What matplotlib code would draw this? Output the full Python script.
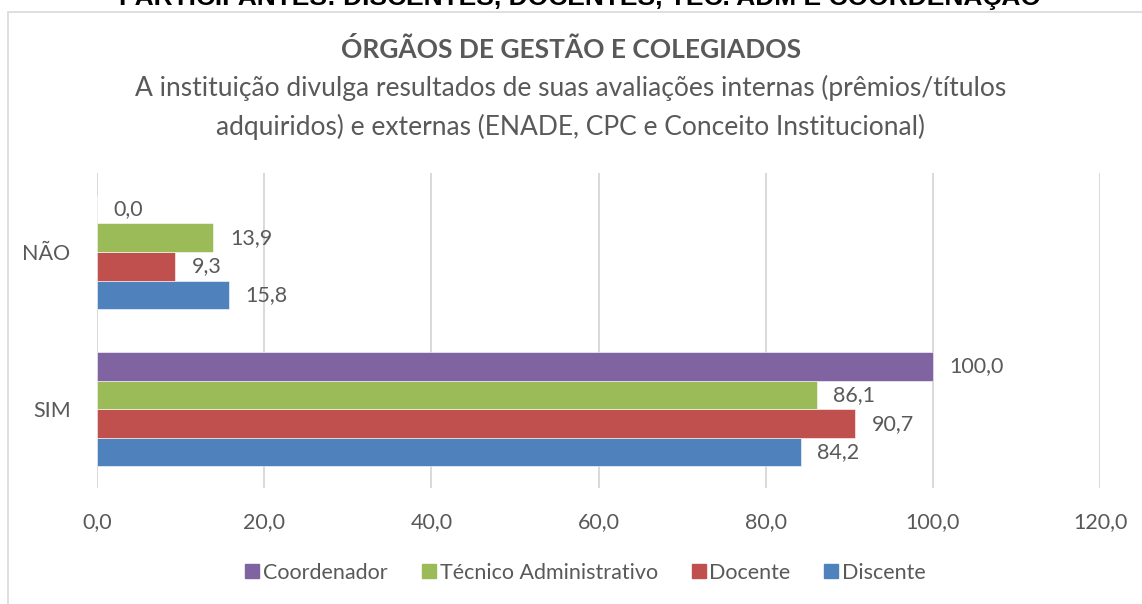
import matplotlib
matplotlib.use("Agg")
import matplotlib.pyplot as plt
from matplotlib.lines import Line2D
from matplotlib.patches import Rectangle

categories = ["SIM", "NÃO"]
series_names = ["Discente", "Docente", "Técnico Administrativo", "Coordenador"]
discente = [84.2, 15.8]
docente = [90.7, 9.3]
tecnico = [86.1, 13.9]
coordenador = [100.0, 0.0]
colors = ["#4F81BD", "#C0504D", "#9BBB59", "#8064A2"]
xticks = [0, 20, 40, 60, 80, 100, 120]

W, H = 1142, 604
fig = plt.figure(figsize=(W / 100, H / 100), dpi=100)
FONT = "Lato"
GRAY = "#595959"

def fx(px):
    return px / W

def fy(py):
    return 1 - py / H

# outer chart border
fig.add_artist(Rectangle((fx(8), -0.1), 1.2, fy(12) + 0.1, transform=fig.transFigure,
                         fill=False, edgecolor="#d9d9d9", linewidth=1.2))

# clipped top title (cut off at the top edge, as in the source image)
fig.text(fx(580), fy(5), "PARTICIPANTES: DISCENTES, DOCENTES, TEC. ADM E COORDENAÇÃO",
         ha="center", va="baseline", fontsize=19, fontweight="bold",
         family="Liberation Sans", color="black")

fig.text(0.5, fy(49), "ÓRGÃOS DE GESTÃO E COLEGIADOS", ha="center", va="center",
         fontsize=19, fontweight="bold", family=FONT, color=GRAY)
fig.text(0.5, fy(88), "A instituição divulga resultados de suas avaliações internas (prêmios/títulos",
         ha="center", va="center", fontsize=19, family=FONT, color=GRAY)
fig.text(0.5, fy(127), "adquiridos) e externas (ENADE, CPC e Conceito Institucional)",
         ha="center", va="center", fontsize=19, family=FONT, color=GRAY)

left, right, top, bottom = 97, 1100, 173.25, 488
ax = fig.add_axes([fx(left), fy(bottom), fx(right) - fx(left), fy(top) - fy(bottom)])

data = [discente, docente, tecnico, coordenador]
h = 28.6 / 157.5
ypos = list(range(len(categories)))
for i, (vals, col) in enumerate(zip(data, colors)):
    ys = [y + (i - 1.5) * h for y in ypos]
    ax.barh(ys, vals, height=h, color=col, edgecolor="white", linewidth=0.4, zorder=3)
    for y, v in zip(ys, vals):
        ax.annotate(f"{v:.1f}".replace(".", ","), (v, y), xytext=(12, 0),
                    textcoords="offset points", ha="left", va="center",
                    fontsize=15.5, family=FONT, color=GRAY)

ax.set_xlim(0, 120)
ax.set_ylim(-0.5, 1.5)
ax.set_xticks(xticks)
ax.set_xticklabels([f"{t:.1f}".replace(".", ",") for t in xticks], family=FONT,
                   fontsize=15.5, color=GRAY)
ax.set_yticks(ypos)
ax.set_yticklabels(categories, family=FONT, fontsize=15.5, color=GRAY)
ax.tick_params(axis="x", length=0, pad=17)
ax.tick_params(axis="y", length=0, pad=19)
ax.grid(axis="x", color="#d9d9d9", linewidth=1.4, zorder=0)
ax.set_axisbelow(True)
for s in ax.spines.values():
    s.set_visible(False)

handles = [Line2D([], [], marker="s", linestyle="none", markersize=10,
                  markerfacecolor=colors[i], markeredgecolor=colors[i]) for i in [3, 2, 1, 0]]
labels = [series_names[i] for i in [3, 2, 1, 0]]
fig.legend(handles, labels, loc="center", bbox_to_anchor=(fx(586), fy(573)), ncol=4,
           frameon=False, handlelength=0.6, handletextpad=0.2, columnspacing=1.6,
           prop={"family": FONT, "size": 15.5}, labelcolor=GRAY)

fig.savefig("out.png", dpi=100)
